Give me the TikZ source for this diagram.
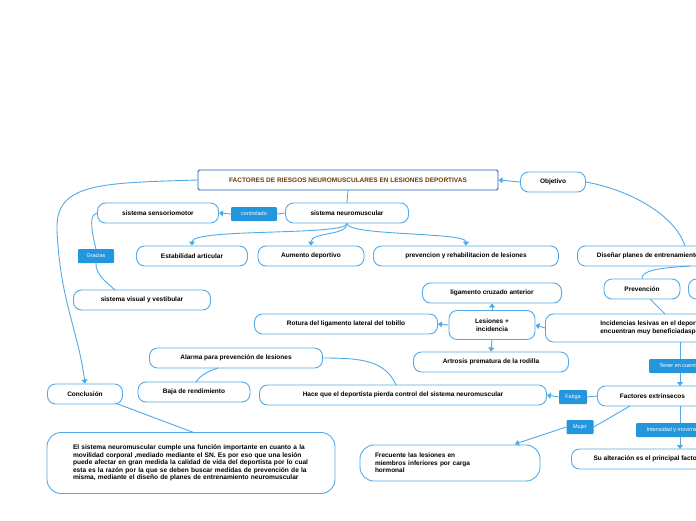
\documentclass[tikz,border=0pt]{standalone}
\usepackage{fontspec}
\setmainfont{Liberation Sans}
\usetikzlibrary{arrows.meta}
\definecolor{bl}{RGB}{80,170,232}
\definecolor{lf}{RGB}{35,150,222}
\definecolor{tb}{RGB}{30,90,190}
\definecolor{br}{RGB}{110,60,10}
\begin{document}
\begin{tikzpicture}[x=1pt,y=-1pt,
 box/.style={draw=bl,line width=0.9pt,rounded corners=8pt,fill=white,minimum height=20pt,font=\fontsize{6.5}{7.5}\selectfont\bfseries,inner sep=2pt},
 lab/.style={fill=lf,text=white,font=\fontsize{5.5}{6}\selectfont,minimum height=14pt,inner sep=2pt,rounded corners=1pt},
 ln/.style={draw=bl,line width=0.9pt},
 ar/.style={ln,-{Triangle[width=6pt,length=4pt]}}]
\useasboundingbox (0,0) rectangle (696,520);
\clip (0,0) rectangle (696,520);
\node[box,minimum width=300pt,minimum height=20pt,draw=tb,rounded corners=1.5pt,text=br] (title) at (348,180) {FACTORES DE RIESGOS NEUROMUSCULARES EN LESIONES DEPORTIVAS};
\node[box,minimum width=65pt] (obj) at (553,182) {Objetivo};
\node[box,minimum width=121pt] (sens) at (158,213) {sistema sensoriomotor};
\node[lab,minimum width=46pt] (ctrl) at (254,214) {controlado};
\node[box,minimum width=123pt] (neuro) at (347,213) {sistema neuromuscular};
\node[box,minimum width=111pt] (est) at (192,256) {Estabilidad articular};
\node[box,minimum width=106pt] (aum) at (311,256) {Aumento deportivo};
\node[box,minimum width=185pt] (prev) at (466,256) {prevencion y rehabilitacion de lesiones};
\node[box,minimum width=190pt,anchor=west] (dis) at (577,256) {Diseñar planes de entrenamiento neuromuscular};
\node[lab,minimum width=36pt] (grac) at (96,256) {Gracias};
\node[box,minimum width=137pt] (vis) at (142,300) {sistema visual y vestibular};
\node[box,minimum width=139pt] (lig) at (492,293) {ligamento cruzado anterior};
\node[box,minimum width=76pt] (pre2) at (642,289) {Prevención};
\node[box,minimum width=60pt,anchor=west] (oth) at (688,289) {Rendimiento};
\node[box,minimum width=183pt] (rot) at (346,324) {Rotura del ligamento lateral del tobillo};
\node[box,minimum width=86pt,minimum height=29pt,align=center] (les) at (492,325) {Lesiones +\\incidencia};
\node[box,minimum width=220pt,minimum height=28pt,anchor=west,align=left] (inc) at (545,328) {Incidencias lesivas en el deporte se\\encuentran muy beneficiadaspor};
\node[box,minimum width=155pt] (art) at (491,362) {Artrosis prematura de la rodilla};
\node[box,minimum width=173pt] (alar) at (236,358) {Alarma para prevención de lesiones};
\node[box,minimum width=112pt] (baja) at (194,392) {Baja de rendimiento};
\node[box,minimum width=287pt] (hace) at (403,395) {Hace que el deportista pierda control del sistema neuromuscular};
\node[lab,minimum width=28pt] (fat) at (573,397) {Fatiga};
\node[box,minimum width=110pt,anchor=west] (fact) at (597,396) {Factores extrinsecos};
\node[lab,minimum width=60pt,anchor=west] (ten) at (649,366) {Tener en cuenta};
\node[box,minimum width=75pt] (conc) at (85,394) {Conclusión};
\node[lab,minimum width=27pt] (muj) at (580,427) {Mujer};
\node[lab,minimum width=80pt,anchor=west] (int) at (636,430) {Intensidad y movimiento};
\node[box,minimum width=288pt,minimum height=61pt,rounded corners=14pt,align=left,text width=236pt,font=\fontsize{6.6}{7.6}\selectfont\bfseries] (ctext) at (191,463) {El sistema neuromuscular cumple una función importante en cuanto a la movilidad corporal ,mediado mediante el SN. Es por eso que una lesión puede afectar en gran medida la calidad de vida del deportista por lo cual esta es la razón por la que se deben buscar medidas de prevención de la misma, mediante el diseño de planes de entrenamiento neuromuscular};
\node[box,minimum width=180pt,minimum height=36pt,rounded corners=14pt,align=left,text width=150pt] (frec) at (450,463) {Frecuente las lesiones en\\miembros inferiores por carga\\hormonal};
\node[box,minimum width=150pt,anchor=west] (sua) at (571,459) {Su alteración es el principal factor};
\draw[ar] (obj.west) -- (title.east);
\draw[ln] (obj.east) .. controls (630,190) and (675,215) .. (685,246);
\draw[ln] (title.south) -- (neuro.north);
\draw[ln] (neuro.west) -- (ctrl.east);
\draw[ar] (ctrl.west) -- (sens.east);
\draw[ar] (neuro.south) .. controls (347,236) and (192,228) .. (est.north);
\draw[ar] (neuro.south) .. controls (347,236) and (311,232) .. (aum.north);
\draw[ar] (neuro.south) .. controls (347,236) and (466,232) .. (prev.north);
\draw[ar] (title.west) .. controls (100,183) and (55,183) .. (57,230) .. controls (60,300) and (78,330) .. (conc.north);
\draw[ln] (sens.west) .. controls (90,215) and (90,225) .. (grac.north);
\draw[ln] (grac.south) .. controls (95,275) and (110,285) .. (115,290);
\draw[ln] (690,266) .. controls (660,268) and (642,270) .. (pre2.north);
\draw[ln] (650,299) -- (665,314);
\draw[ar] (inc.west) -- (les.east);
\draw[ar] (les.north) -- (lig.south);
\draw[ar] (les.west) -- (rot.east);
\draw[ar] (les.south) -- (art.north);
\draw[ln] (680,342) -- (ten.north -| 680,0);
\draw[ar] (680,373) -- (680,386);
\draw[ln] (fact.west) -- (fat.east);
\draw[ar] (fat.west) -- (hace.east);
\draw[ln] (396,385) .. controls (385,360) and (360,358) .. (alar.east);
\draw[ln] (218,368) .. controls (205,372) and (198,378) .. (196,382);
\draw[ln] (115,403) -- (195,433);
\draw[ln] (630,406) -- (muj.east);
\draw[ar] (muj.west) -- (515,444);
\draw[ln] (680,406) -- (680,423);
\draw[ar] (680,437) -- (680,449);
\end{tikzpicture}
\end{document}
